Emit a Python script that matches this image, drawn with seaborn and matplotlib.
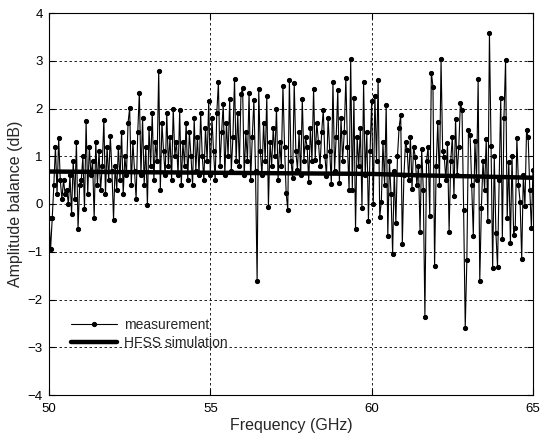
import numpy as np
import matplotlib
matplotlib.use("Agg")
import matplotlib.pyplot as plt
import seaborn as sns

# measured amplitude balance (dB), 0.05 GHz steps from 50 to 65 GHz
meas_50 = [-0.3, -0.94, -0.3, 0.4, 1.2, 0.2, 1.39, 0.5, 0.1, 0.5,
           0.2, 0.3, 0.0, 0.6, -0.2, 0.9, 0.1, 1.3, -0.52, 0.4]
meas_51 = [0.5, 1.0, -0.1, 1.73, 0.2, 1.2, 0.6, 0.9, -0.3, 1.3,
           0.4, 1.1, 0.3, 0.8, 1.76, 0.2, 1.2, 0.5, 1.43, 0.7]
meas_52 = [-0.33, 0.8, 0.3, 1.2, 0.5, 1.5, 0.2, 1.0, 0.6, 1.7,
           2.01, 0.4, 1.3, 0.7, 0.1, 1.5, 2.33, 0.6, 1.8, 0.4]
meas_53 = [1.2, -0.03, 1.6, 0.8, 1.9, 0.5, 1.3, 0.9, 2.79, 0.3,
           1.7, 1.1, 0.6, 1.9, 0.8, 1.4, 0.5, 2.0, 1.0, 1.3]
meas_54 = [0.6, 1.97, 0.4, 1.3, 0.8, 1.7, 0.5, 1.5, 1.0, 0.4,
           1.8, 0.7, 1.4, 0.6, 1.9, 1.0, 0.5, 1.6, 0.9, 2.15]
meas_55 = [0.6, 1.8, 1.1, 0.5, 1.9, 2.55, 0.8, 1.5, 2.1, 0.6,
           1.7, 1.0, 2.2, 0.7, 1.4, 2.62, 0.9, 1.9, 0.8, 2.3]
meas_56 = [2.43, 0.6, 1.5, 0.9, 2.33, 0.5, 1.4, 2.18, 0.7, -1.62,
           2.4, 1.1, 0.6, 1.7, 0.9, 2.27, -0.07, 1.3, 0.8, 1.6]
meas_57 = [1.0, 2.0, 0.5, 1.3, 0.8, 2.47, 1.2, 0.23, -0.12, 2.6,
           0.9, 0.55, 2.54, 1.1, 0.72, 1.5, 0.6, 2.2, 0.9, 1.4]
meas_58 = [1.2, 0.47, 1.6, 0.9, 2.41, 0.93, 1.7, 1.3, 0.8, 1.5,
           1.97, 1.0, 0.59, 1.8, 1.1, 0.42, 2.56, 0.7, 1.4, 2.38]
meas_59 = [0.45, 1.8, 0.9, 1.5, 2.64, 1.2, 0.3, 3.03, 0.3, 2.22,
           -0.52, 1.4, 0.8, 1.6, -0.08, 2.55, 0.6, 1.5, -0.35, 1.1]
meas_60 = [2.16, -0.01, 2.27, 0.9, 2.6, -0.27, 0.05, 1.3, 0.4, 2.08,
           -0.68, 0.9, 0.2, -1.05, 0.7, -0.4, 1.0, 1.6, 1.87, -0.83]
meas_61 = [0.6, 1.3, 1.14, 0.5, 1.41, 0.32, 1.2, 0.99, 0.4, 0.8,
           -0.58, 1.16, 0.3, -2.36, 0.9, 1.2, -0.26, 2.75, 2.46, -1.3]
meas_62 = [0.8, 1.72, 0.4, 3.03, 1.1, 0.99, 0.5, 1.28, -0.58, 0.9,
           1.41, 0.16, 1.79, 0.6, 1.2, 2.11, 1.97, -0.12, -2.59, -1.17]
meas_63 = [1.55, 1.45, 0.4, -0.66, 1.31, 0.5, 2.62, -1.62, -0.08, 0.9,
           0.3, 1.37, -0.36, 3.58, 1.21, -1.35, 1.0, -0.6, -1.31, 0.5]
meas_64 = [2.22, -0.73, 1.81, 3.02, -0.3, 0.89, -0.81, 1.0, -0.64, -0.51,
           1.39, 0.4, 0.05, -1.15, 0.6, -0.05, 1.55, 1.41, 0.3, -0.5]
meas_65 = [0.72]

measurement = (meas_50 + meas_51 + meas_52 + meas_53 + meas_54 + meas_55 +
               meas_56 + meas_57 + meas_58 + meas_59 + meas_60 + meas_61 +
               meas_62 + meas_63 + meas_64 + meas_65)
freq = np.round(50 + 0.05 * np.arange(len(measurement)), 2)

# HFSS simulated amplitude balance
hfss_freq = [50, 52, 54, 56, 58, 60, 61.5, 63, 65]
hfss_val = [0.68, 0.67, 0.66, 0.65, 0.64, 0.63, 0.60, 0.58, 0.55]

sns.set_style("white")
plt.rcParams['font.family'] = ['Liberation Sans', 'DejaVu Sans']

fig = plt.figure(figsize=(5.41, 4.38), dpi=100)
ax = fig.add_axes([49 / 541, 43 / 438, 484 / 541, 382 / 438])

sns.lineplot(x=freq, y=measurement, ax=ax, color='k', lw=0.8, marker='o',
             markersize=3, markeredgecolor='k', label='measurement')
sns.lineplot(x=hfss_freq, y=hfss_val, ax=ax, color='k', lw=3.2,
             label='HFSS simulation')

ax.set_xlim(50, 65)
ax.set_ylim(-4, 4)
ax.set_xticks([50, 55, 60, 65])
ax.set_yticks(range(-4, 5))
ax.grid(True, color='k', linestyle=(0, (3, 3)), linewidth=0.6)
ax.tick_params(direction='in', length=4, labelsize=9.5, top=True, right=True,
               bottom=True, left=True, colors='k')
ax.tick_params(axis='x', pad=6)
ax.tick_params(axis='y', pad=4.5)
for s in ax.spines.values():
    s.set_color('k')
    s.set_linewidth(0.8)
ax.set_xlabel('Frequency (GHz)', fontsize=11.5, labelpad=2)
ax.set_ylabel('Amplitude balance (dB)', fontsize=11.5, labelpad=3)

ax.legend(loc='center left', bbox_to_anchor=(0.02, 0.16), frameon=False,
          fontsize=10, handlelength=3.3, labelspacing=0.3, handletextpad=0.5)

fig.savefig('out.png', dpi=100)
